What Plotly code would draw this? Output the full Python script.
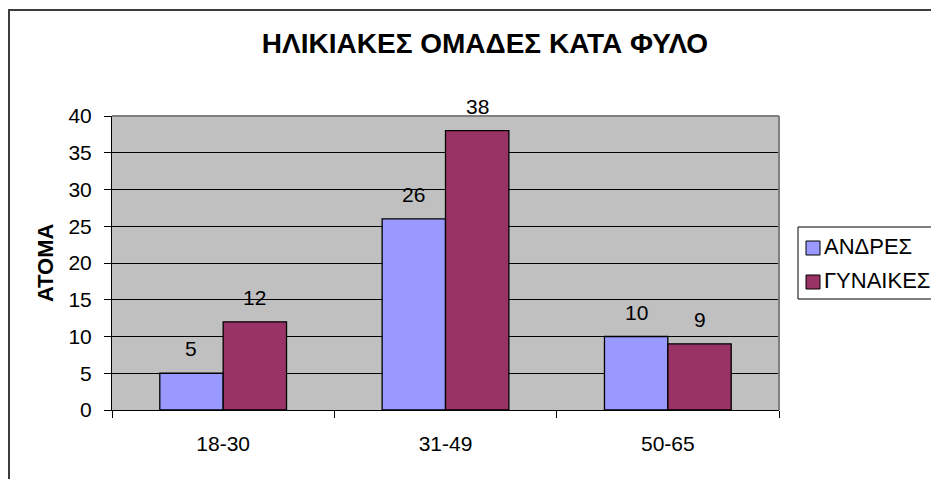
import plotly.graph_objects as go

categories = ["18-30", "31-49", "50-65"]
men = [5, 26, 10]
women = [12, 38, 9]
series_names = ["ΑΝΔΡΕΣ", "ΓΥΝΑΙΚΕΣ"]
title_text = "ΗΛΙΚΙΑΚΕΣ ΟΜΑΔΕΣ ΚΑΤΑ ΦΥΛΟ"
y_title = "ΑΤΟΜΑ"

FONT = "Arial, Liberation Sans, sans-serif"
COLORS = ["#9999FF", "#993366"]

# page body has an 8px margin, so figure pixel coords = screen coords - 8
W, H = 931, 471
L, T = 104, 108
PR, PB = 771, 402          # plot right / bottom in figure pixels
R, B = W - PR, H - PB
pw, ph = PR - L, PB - T
BARGAP = 0.43


def px(xf):
    return (xf - L) / pw


def py(yf):
    return (PB - yf) / ph


fig = go.Figure()
series = [men, women]
for name, vals, col in zip(series_names, series, COLORS):
    fig.add_trace(go.Bar(
        x=categories, y=vals, name=name,
        marker=dict(color=col, line=dict(color="black", width=1.3)),
        showlegend=False,
    ))

# value labels above each bar
bw = (1 - BARGAP) / len(series)
annotations = []
for i, vals in enumerate(series):
    for j, v in enumerate(vals):
        annotations.append(dict(
            x=j + (i - (len(series) - 1) / 2) * bw, y=v, xref="x", yref="y",
            text=str(v), showarrow=False, xanchor="center", yanchor="bottom",
            yshift=11, font=dict(size=21, color="black", family=FONT),
        ))

# y-axis title
annotations.append(dict(
    x=px(37), y=py(255), xref="paper", yref="paper", text="<b>" + y_title + "</b>",
    textangle=-90, showarrow=False, xanchor="center", yanchor="middle",
    font=dict(size=22, color="black", family=FONT),
))

shapes = []
# outer chart border (only top and left visible)
shapes.append(dict(type="rect", xref="paper", yref="paper",
                   x0=px(1), x1=px(W + 20), y0=py(H + 20), y1=py(2),
                   line=dict(color="#3c3c3c", width=2), layer="below"))
# gray top/right border of plot area
shapes.append(dict(type="line", xref="paper", yref="paper", x0=0, x1=1, y0=1, y1=1,
                   line=dict(color="#808080", width=2)))
shapes.append(dict(type="line", xref="paper", yref="paper", x0=1, x1=1, y0=0, y1=1,
                   line=dict(color="#808080", width=2)))
# legend box
shapes.append(dict(type="rect", xref="paper", yref="paper",
                   x0=px(790), x1=px(930), y0=py(291), y1=py(219),
                   line=dict(color="black", width=1), fillcolor="white"))
legend_rows = [240, 274]
for name, col, yc in zip(series_names, COLORS, legend_rows):
    shapes.append(dict(type="rect", xref="paper", yref="paper",
                       x0=px(798), x1=px(812), y0=py(yc + 7), y1=py(yc - 7),
                       line=dict(color="black", width=1), fillcolor=col))
    annotations.append(dict(
        x=px(814), y=py(yc - 2), xref="paper", yref="paper", text=name,
        showarrow=False, xanchor="left", yanchor="middle",
        font=dict(size=22, color="black", family=FONT),
    ))

fig.update_layout(
    width=W, height=H,
    margin=dict(l=L, r=R, t=T, b=B),
    paper_bgcolor="white",
    plot_bgcolor="#C0C0C0",
    font=dict(family=FONT, size=21, color="black"),
    barmode="group",
    bargap=BARGAP,
    bargroupgap=0,
    showlegend=False,
    title=dict(text="<b>" + title_text + "</b>", x=477 / W, xanchor="center",
               y=1 - 35 / H, yanchor="middle", font=dict(size=28, family=FONT)),
    xaxis=dict(
        type="category", tickson="boundaries", ticks="outside", ticklen=7,
        tickcolor="black", showline=True, linecolor="black", linewidth=1,
        showgrid=False, ticklabelstandoff=15, tickfont=dict(size=21),
    ),
    yaxis=dict(
        range=[0, 40], dtick=5, ticks="outside", ticklen=7, tickcolor="black",
        showline=True, linecolor="black", linewidth=1,
        showgrid=True, gridcolor="black", gridwidth=1, zeroline=False,
        tickfont=dict(size=21), ticklabelstandoff=8,
    ),
    annotations=annotations,
    shapes=shapes,
)

fig.write_html("out.html")
